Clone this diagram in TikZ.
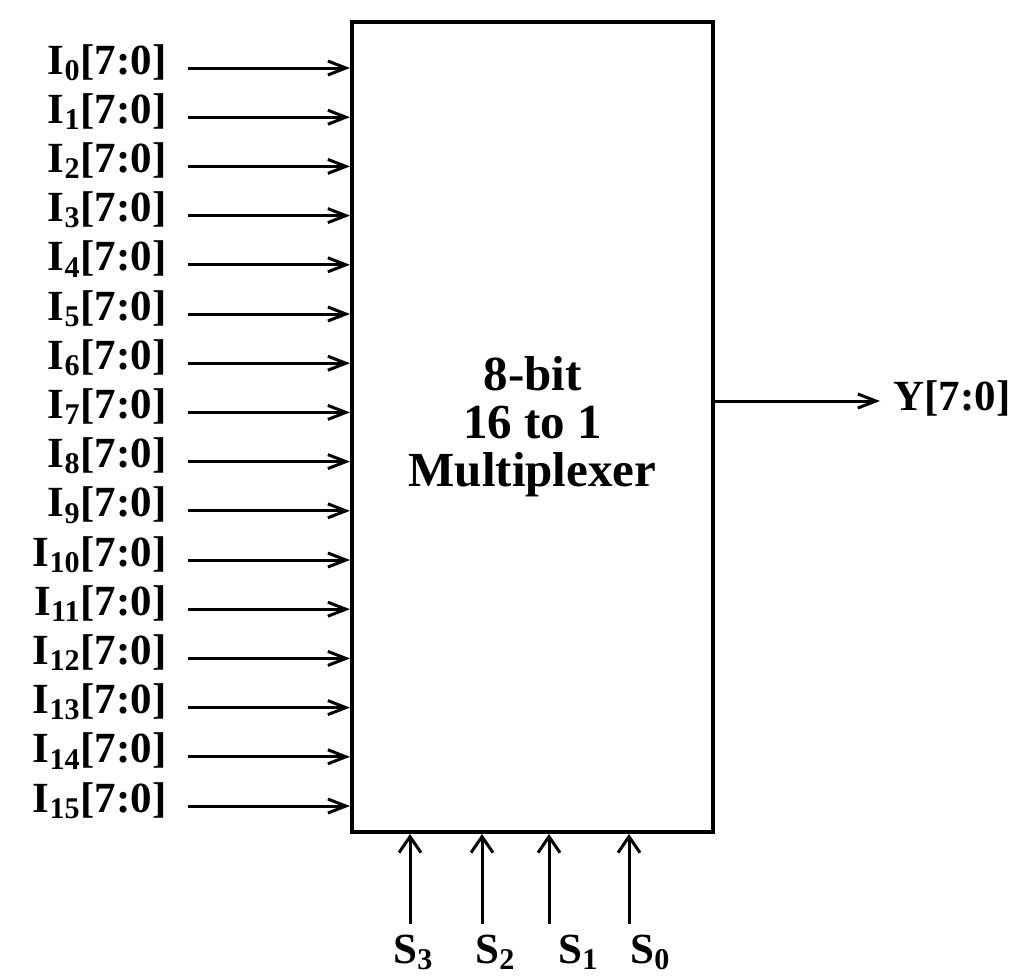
\documentclass[tikz,border=0pt]{standalone}
\usepackage{fontspec}
\setmainfont{Liberation Serif}
\usetikzlibrary{arrows.meta, positioning, calc}

\tikzset{
  muxbox/.style={draw, line width=2pt, minimum width=180.5pt, minimum height=405pt,
    align=center, font=\fontsize{24.5}{24}\selectfont\bfseries},
  sig/.style={line width=1.5pt, -{Straight Barb[length=9pt, width=7pt]}},
  selsig/.style={line width=1.5pt, -{Straight Barb[length=8pt, width=11pt]}},
  pinlbl/.style={inner sep=0pt, font=\fontsize{21.5}{24}\selectfont\bfseries},
}

\begin{document}
\begin{tikzpicture}[x=0.5pt, y=-0.5pt]
  \useasboundingbox (0,0) rectangle (1015,975);

  % Multiplexer block
  \node[muxbox] (mux) at (532.5,427) {8-bit\\16 to 1\\Multiplexer};

  % Data inputs
  \foreach \i in {0,...,15} {
    \coordinate (a\i) at (188, 68+49.2*\i);
    \node[pinlbl, anchor=base east] (i\i) at (167, 74+49.2*\i) {I\textsubscript{\i}[7:0]};
    \draw[sig] (a\i) -- (a\i -| mux.west);
  }

  % Output
  \coordinate (yend) at (880,401);
  \node[pinlbl, anchor=base west] (y) at (893,410) {Y[7:0]};
  \draw[sig] (yend -| mux.east) -- (yend);

  % Select lines
  \foreach \x/\s/\lx in {410/3/393, 482/2/475, 549/1/558, 629/0/630} {
    \coordinate (c\s) at (\x,924);
    \node[pinlbl, anchor=base west] (s\s) at (\lx,963) {S\textsubscript{\s}};
    \draw[selsig] (c\s) -- (c\s |- mux.south);
  }
\end{tikzpicture}
\end{document}
